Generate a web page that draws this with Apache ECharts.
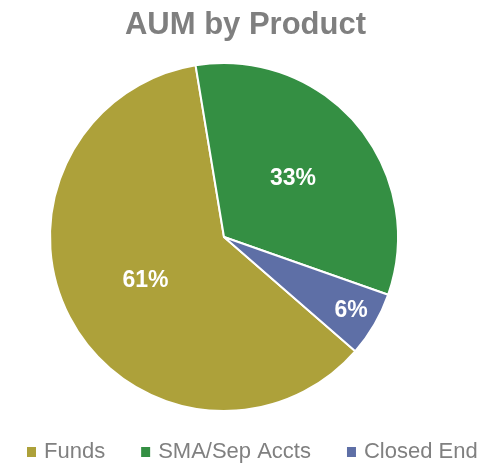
<!DOCTYPE html>
<html>
<head>
<meta charset="utf-8">
<script src="https://cdn.jsdelivr.net/npm/echarts@6/dist/echarts.min.js"></script>
<style>
  html, body { margin: 0; padding: 0; background: #fff; }
  #chart { width: 491px; height: 463px; }
</style>
</head>
<body>
<div id="chart"></div>
<script>
'use strict';
var categories = ['Funds', 'SMA/Sep Accts', 'Closed End'],
		values = [61, 33, 6],
		colors = ['#ADA13A', '#348F43', '#5E6FA6'],
		outerLabels = ['Closed End'];   // labels drawn nearer the rim

var chart = echarts.init(document.getElementById('chart'));

var mainData = categories.map(function (name, i) {
	return {
		name: name,
		value: values[i],
		label: {show: outerLabels.indexOf(name) < 0}
	};
});

var labelData = categories.map(function (name, i) {
	return {
		name: name,
		value: values[i],
		label: {show: outerLabels.indexOf(name) >= 0}
	};
});

var labelStyle = {
	position: 'inside',
	formatter: '{d}%',
	color: '#fff',
	fontFamily: 'Liberation Sans, Arial, sans-serif',
	fontWeight: 'bold',
	fontSize: 23
};

var options = {
	color: colors,
	animation: false,
	title: {
		text: 'AUM by Product',
		left: 'center',
		top: 5,
		textStyle: {
			color: '#7F7F7F',
			fontFamily: 'Liberation Sans, Arial, sans-serif',
			fontWeight: 'bold',
			fontSize: 31
		}
	},
	legend: {
		data: categories,
		top: 441,
		left: 25,
		width: 470,
		padding: 0,
		icon: 'rect',
		itemWidth: 11,
		itemHeight: 12,
		itemGap: 34,
		textStyle: {
			color: '#808080',
			fontFamily: 'Liberation Sans, Arial, sans-serif',
			fontSize: 22,
			padding: [0, 0, 0, 2]
		}
	},
	series: [
		{
			name: 'AUM',
			type: 'pie',
			center: [224, 237],
			radius: [0, 174],
			startAngle: -41,
			clockwise: true,
			itemStyle: {borderColor: '#fff', borderWidth: 2},
			label: labelStyle,
			labelLine: {show: false},
			emphasis: {disabled: true},
			data: mainData
		},
		{
			name: 'AUM labels',
			type: 'pie',
			center: [224, 237],
			radius: [114, 174],
			startAngle: -41,
			clockwise: true,
			silent: true,
			itemStyle: {color: 'rgba(0,0,0,0)', borderWidth: 0},
			label: labelStyle,
			labelLine: {show: false},
			emphasis: {disabled: true},
			data: labelData
		}
	]
};

chart.setOption(options);
</script>
</body>
</html>
